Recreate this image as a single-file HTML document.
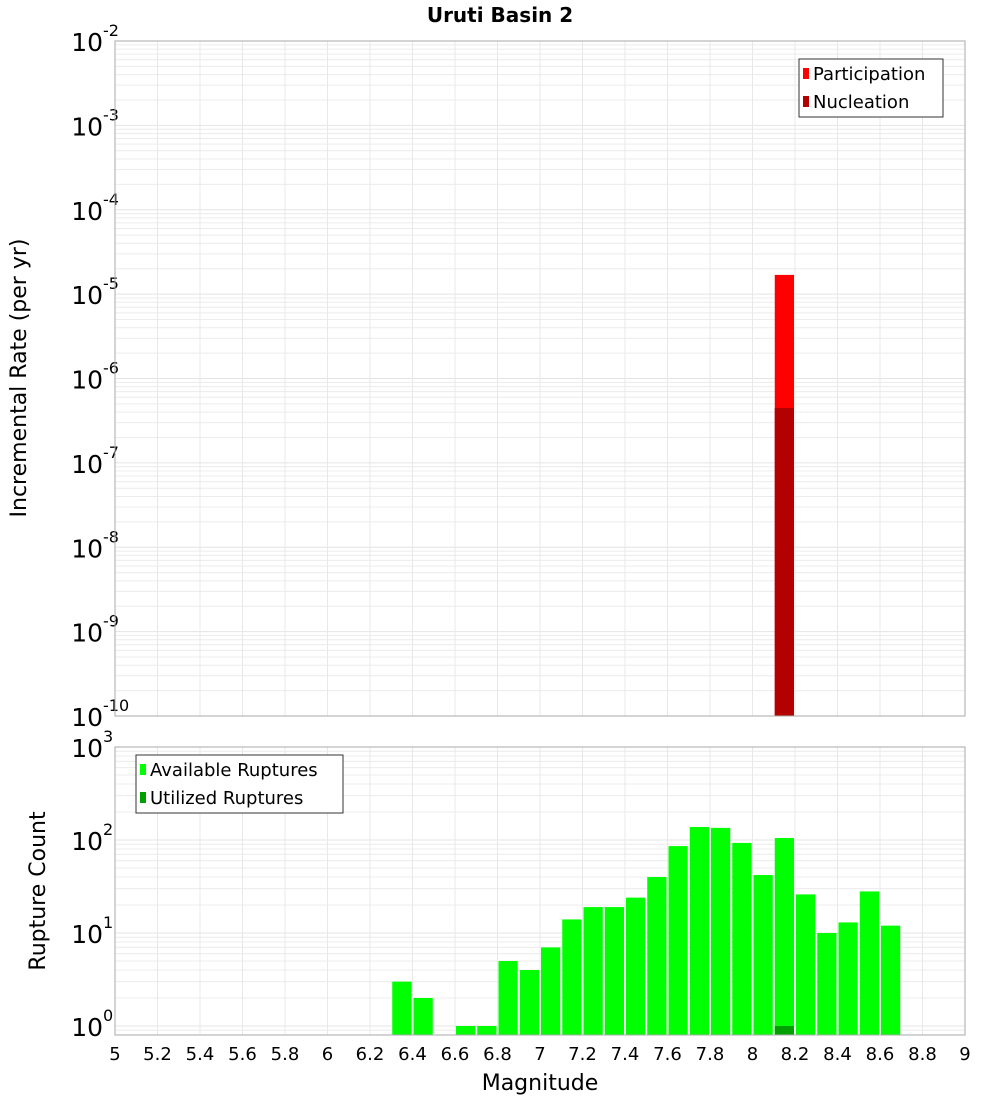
<!DOCTYPE html>
<html><head><meta charset="utf-8"><style>
body{margin:0;background:#fff;width:1000px;height:1100px;overflow:hidden}
svg text{font-family:"DejaVu Sans","Liberation Sans",sans-serif;fill:#000}
</style></head><body>
<svg id="chart" width="1000" height="1100" xmlns="http://www.w3.org/2000/svg">
<text x="500" y="22" text-anchor="middle" font-size="20" font-weight="bold">Uruti Basin 2</text>
<g id="top"></g><g id="bot"></g>
<text transform="translate(26,378) rotate(-90)" text-anchor="middle" font-size="22">Incremental Rate (per yr)</text>
<text transform="translate(45,891) rotate(-90)" text-anchor="middle" font-size="22">Rupture Count</text>
<text x="540" y="1090" text-anchor="middle" font-size="22">Magnitude</text>
<g>
<rect x="799" y="59" width="144" height="58" fill="#fff" stroke="#333" stroke-width="1"/>
<rect x="803" y="68" width="6" height="11" fill="#ff0000"/>
<text x="813" y="80" font-size="18">Participation</text>
<rect x="803" y="96" width="6" height="11" fill="#b30000"/>
<text x="813" y="108" font-size="18">Nucleation</text>
</g>
<g>
<rect x="136" y="755" width="207" height="58" fill="#fff" stroke="#333" stroke-width="1"/>
<rect x="140" y="764" width="6" height="11" fill="#00ff00"/>
<text x="150" y="776" font-size="18">Available Ruptures</text>
<rect x="140" y="792" width="6" height="11" fill="#00a000"/>
<text x="150" y="804" font-size="18">Utilized Ruptures</text>
</g>
</svg>
<script>
const xTicks=[5,5.2,5.4,5.6,5.8,6,6.2,6.4,6.6,6.8,7,7.2,7.4,7.6,7.8,8,8.2,8.4,8.6,8.8,9];
const rateMags=[8.15];
const participation=[1.69e-5];
const nucleation=[4.47e-7];
const countMags=[6.35,6.45,6.65,6.75,6.85,6.95,7.05,7.15,7.25,7.35,7.45,7.55,7.65,7.75,7.85,7.95,8.05,8.15,8.25,8.35,8.45,8.55,8.65];
const available=[3,2,1,1,5,4,7,14,19,19,24,40,86,138,135,93,42,105,26,10,13,28,12];
const utilizedMags=[8.15];
const utilized=[1];
const topExps=[-2,-3,-4,-5,-6,-7,-8,-9,-10];
const botExps=[3,2,1,0];

const NS="http://www.w3.org/2000/svg";
const X0=115,X1=965;
const xs=m=>X0+(m-5)/4*(X1-X0);
const yTop=v=>41+(-2-Math.log10(v))*84.375;
const yBot=v=>1026-Math.log10(v)*93;
function el(p,t,a){const e=document.createElementNS(NS,t);for(const k in a)e.setAttribute(k,a[k]);p.appendChild(e);return e;}
function panel(g,top,bot,ys,lo,hi,exps,name){
  for(let d=lo;d<hi;d++)for(let k=1;k<10;k++){const y=ys(k*Math.pow(10,d));if(y<top||y>bot)continue;
    const l=el(g,'line',{x1:X0,x2:X1,y1:y,y2:y,stroke:k==1?'#e4e4e4':'#ececec','stroke-width':1});
    
    }
  xTicks.forEach(t=>{const l=el(g,'line',{x1:xs(t),x2:xs(t),y1:top,y2:bot,stroke:'#e8e8e8','stroke-width':1});
    
    });
  exps.forEach(e=>{const y=ys(Math.pow(10,e));const t=el(g,'text',{x:103,y:y+10,'text-anchor':'end','font-size':25});t.textContent='10';
    
    
    const s=el(g,'text',{x:103,y:y-5,'font-size':16});s.textContent=String(e);
    
    });
}
const gt=document.getElementById('top'),gb=document.getElementById('bot');
panel(gt,41,716,yTop,-10,-2,topExps,'top');
panel(gb,747,1035,yBot,-1,3,botExps,'bottom');
const bw=(X1-X0)/40;
rateMags.forEach((m,i)=>{
  const r=el(gt,'rect',{x:xs(m)-bw/2+1,y:yTop(participation[i]),width:bw-2,height:716-yTop(participation[i]),fill:'#ff0000'});
  
  
  const n=el(gt,'rect',{x:xs(m)-bw/2+1,y:yTop(nucleation[i]),width:bw-2,height:716-yTop(nucleation[i]),fill:'#b30000'});
  
  
});
countMags.forEach((m,i)=>{
  const y=yBot(available[i]);
  const r=el(gb,'rect',{x:xs(m)-bw/2+1,y:y,width:bw-2,height:1035-y,fill:'#00ff00'});
  
  
});
utilizedMags.forEach((m,i)=>{
  const y=yBot(utilized[i]);
  const r=el(gb,'rect',{x:xs(m)-bw/2+1,y:y,width:bw-2,height:1035-y,fill:'#00a000'});
  
  
});
[[gt,41,716],[gb,747,1035]].forEach(([g,t,b])=>{const f=el(g,'rect',{x:X0,y:t,width:X1-X0,height:b-t,fill:'none',stroke:'#aaa','stroke-width':1});
  
  });
xTicks.forEach(t=>{const tx=el(gb,'text',{x:xs(t),y:1060,'text-anchor':'middle','font-size':18});tx.textContent=String(t);
  
  });
</script>
</body></html>
